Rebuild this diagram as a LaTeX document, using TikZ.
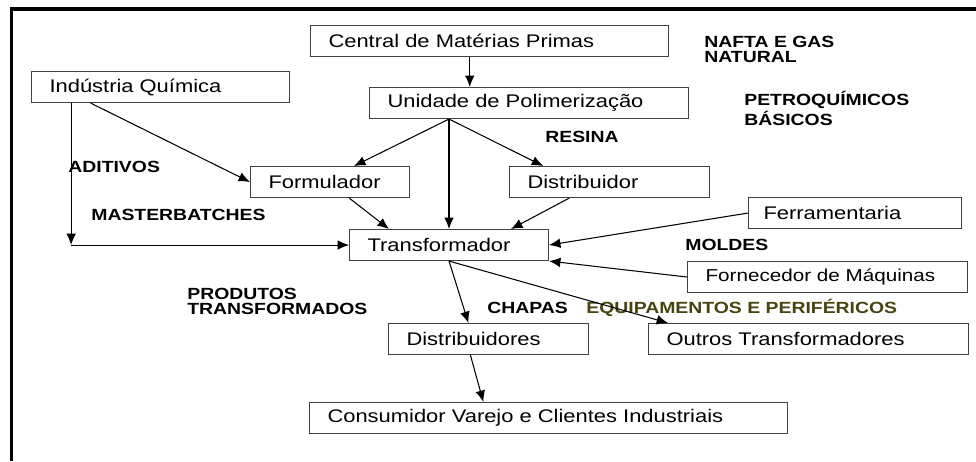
\documentclass[tikz,border=0pt]{standalone}
\usepackage{fontspec}
\setmainfont[FakeStretch=1.2]{Liberation Sans}
\usepackage{tikz}
\usetikzlibrary{arrows.meta,%
                calc,positioning}
\definecolor{darkolive}{RGB}{72,68,16}

\begin{document}
\begin{tikzpicture}[x = 0.02cm, y = -0.02cm]
  \useasboundingbox (0,0) rectangle (976,461);
  \tikzset{BoxStyle/.style   = {draw           = black!75,
                                line width     = 0.6pt,
                                anchor         = north west,
                                inner xsep     = 0.36cm,
                                inner ysep     = 0pt,
                                minimum height = 0.62cm,
                                align          = left,
                                font           = \fontsize{10.4}{12}\selectfont}}
  \tikzset{LabelStyle/.style = {anchor         = base west,
                                inner sep      = 0pt,
                                align          = left,
                                font           = \bfseries\fontsize{9.2}{8.4}\selectfont}}
  \tikzset{EdgeStyle/.style  = {line width     = 0.6pt,
                                -{Latex[length = 6.5pt, width = 5.5pt]}}}
  % frame
     \draw[line width = 1.8pt] (11.5,461) -- (11.5,9) -- (976,9);
  % boxes
     \node[BoxStyle, text width = 6.44cm] (CMP) at (310,25) {Central de Matérias Primas};
     \node[BoxStyle, text width = 4.44cm] (IQ) at (31,71) {Indústria Química};
     \node[BoxStyle, text width = 5.66cm] (UP) at (369,87) {Unidade de Polimerização};
     \node[BoxStyle, text width = 2.46cm] (F) at (250,166) {Formulador};
     \node[BoxStyle, text width = 3.28cm, right = 1.98cm of F] (D) {Distribuidor};
     \node[BoxStyle, text width = 3.66cm, inner xsep = 0.3cm] (Fer) at (748,197) {Ferramentaria};
     \node[BoxStyle, text width = 3.26cm] (T) at (349,229) {Transformador};
     \node[BoxStyle, text width = 4.88cm,
           font = \fontsize{9.8}{12}\selectfont] (FM) at (687,261) {Fornecedor de Máquinas};
     \node[BoxStyle, text width = 3.28cm] (Ds) at (388,323) {Distribuidores};
     \node[BoxStyle, text width = 5.68cm, right = 1.18cm of Ds] (OT) {Outros Transformadores};
     \node[BoxStyle, text width = 8.84cm] (C) at (309,402) {Consumidor Varejo e Clientes Industriais};
  % labels (base = last line)
     \node[LabelStyle] (nafta) at (704,62) {NAFTA E GAS\\NATURAL};
     \node[LabelStyle] (petro) at (744,125) {PETROQUÍMICOS\\BÁSICOS};
     \node[LabelStyle] (resina) at (545,142) {RESINA};
     \node[LabelStyle] (aditivos) at (68,172) {ADITIVOS};
     \node[LabelStyle] (master) at (91,220) {MASTERBATCHES};
     \node[LabelStyle] (moldes) at (685,250) {MOLDES};
     \node[LabelStyle] (produtos) at (187,314) {PRODUTOS\\TRANSFORMADOS};
     \node[LabelStyle] (chapas) at (487,313) {CHAPAS};
     \node[LabelStyle, text = darkolive] (equip) at (586,313) {EQUIPAMENTOS E PERIFÉRICOS};
  % connectors
     \coordinate (CMPs) at ($(CMP.south west)!0.445!(CMP.south east)$);
     \coordinate (UPs) at (T.north |- UP.south);
     \coordinate (IQa) at ($(IQ.south west)!0.155!(IQ.south east)$);
     \coordinate (IQb) at (IQa |- T.west);

     \draw[EdgeStyle] (CMPs) to (CMPs |- UP.north);
     \draw[EdgeStyle] (UPs) to ($(F.north west)!0.65!(F.north east)$);
     \draw[EdgeStyle] (UPs) to (T.north);
     \draw[EdgeStyle] (UPs) to ($(D.north west)!0.17!(D.north east)$);
     \draw[EdgeStyle] (IQa) to (IQb);
     \draw[EdgeStyle] (IQb) to (T.west);
     \draw[EdgeStyle] ($(IQ.south west)!0.23!(IQ.south east)$) to (F.west);
     \draw[EdgeStyle] ($(F.south west)!0.62!(F.south east)$) to ($(T.north west)!0.2!(T.north east)$);
     \draw[EdgeStyle] ($(D.south west)!0.3!(D.south east)$) to ($(T.north west)!0.81!(T.north east)$);
     \draw[EdgeStyle] (Fer.west) to (T.east);
     \draw[EdgeStyle] (FM.west) to (T.south east);
     \draw[EdgeStyle] (T.south) to ($(Ds.north west)!0.4!(Ds.north east)$);
     \draw[EdgeStyle] (T.south) to ($(OT.north west)!0.0625!(OT.north east)$);
     \draw[EdgeStyle] ($(Ds.south west)!0.41!(Ds.south east)$) to ($(C.north west)!0.364!(C.north east)$);
\end{tikzpicture}
\end{document}
